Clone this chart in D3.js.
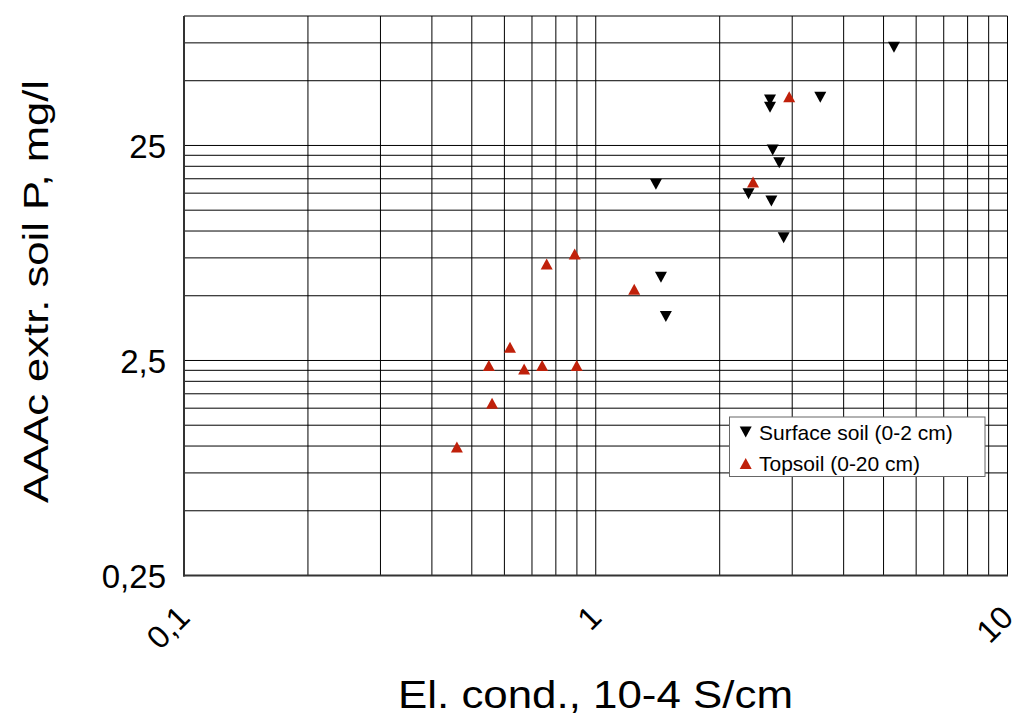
<!DOCTYPE html>
<html>
<head>
<meta charset="utf-8">
<script src="https://cdn.jsdelivr.net/npm/d3@7"></script>
<style>
  html, body { margin: 0; padding: 0; background: #fff; }
  svg { display: block; font-family: "Liberation Sans", Arial, Helvetica, sans-serif; }
</style>
</head>
<body>
<svg id="chart" width="1019" height="715"></svg>
<script>
// Electrical conductivity (10-4 S/cm) and AAAc-extractable P (mg/l)
const surfaceEC = [5.30, 2.65, 2.65, 3.51, 2.69, 2.79, 1.40, 2.35, 2.67, 2.86, 1.44, 1.48];
const surfaceP  = [71.5, 40.7, 37.6, 41.9, 23.8, 20.8, 16.5, 14.9, 13.8, 9.3, 6.1, 4.0];
const topsoilEC = [2.95, 2.41, 1.24, 0.889, 0.760, 0.619, 0.550, 0.670, 0.741, 0.899, 0.560, 0.460];
const topsoilP  = [42.1, 16.9, 5.36, 7.82, 7.02, 2.88, 2.37, 2.28, 2.37, 2.37, 1.58, 0.99];

const xTickValues = [0.1, 1, 10];
const xTickLabels = ["0,1", "1", "10"];
const yTickValues = [0.25, 2.5, 25];
const yTickLabels = ["0,25", "2,5", "25"];
const seriesNames = ["Surface soil (0-2 cm)", "Topsoil (0-20 cm)"];

const svg = d3.select("#chart");
const plotLeft = 184, plotRight = 1007.5, plotTop = 16, plotBottom = 575.5;

const x = d3.scaleLog().domain([0.1, 10]).range([plotLeft, plotRight]);
const y = d3.scaleLog().domain([0.25, 100]).range([plotBottom, plotTop]);

// Grid: x lines at 1..10 × each decade, y lines at 1..10 × each 0.25 decade
const xGrid = [];
[0.1, 1].forEach(b => { for (let k = 1; k <= 10; k++) xGrid.push(+(b * k).toFixed(4)); });
const yGrid = [];
[0.25, 2.5, 25].forEach(b => { for (let k = 1; k <= 10; k++) { const v = +(b * k).toFixed(4); if (v <= 100) yGrid.push(v); } });

const grid = svg.append("g");
grid.selectAll("line.gx").data(Array.from(new Set(xGrid))).join("line")
  .attr("class", "gx")
  .attr("x1", d => x(d)).attr("x2", d => x(d))
  .attr("y1", plotTop).attr("y2", plotBottom)
  .attr("stroke", "#000").attr("stroke-width", 1);
grid.selectAll("line.gy").data(Array.from(new Set(yGrid))).join("line")
  .attr("class", "gy")
  .attr("x1", plotLeft).attr("x2", plotRight)
  .attr("y1", d => y(d)).attr("y2", d => y(d))
  .attr("stroke", "#000").attr("stroke-width", 1);

// Frame
svg.append("line").attr("x1", plotLeft).attr("x2", plotLeft).attr("y1", plotTop).attr("y2", plotBottom + 1)
  .attr("stroke", "#333").attr("stroke-width", 2);
svg.append("line").attr("x1", plotLeft - 1).attr("x2", plotRight + 0.5).attr("y1", plotBottom).attr("y2", plotBottom)
  .attr("stroke", "#333").attr("stroke-width", 2);

// Axis labels via d3 axes (tick lines hidden; grid drawn above)
const yAxis = svg.append("g")
  .attr("transform", `translate(${plotLeft},0)`)
  .call(d3.axisLeft(y).tickValues(yTickValues).tickFormat((d, i) => yTickLabels[i]).tickSize(0).tickPadding(18));
yAxis.select(".domain").remove();
yAxis.selectAll("text")
  .attr("font-size", 33).attr("font-family", "Liberation Sans, Arial, sans-serif")
  .attr("fill", "#000").attr("dy", "0.36em");

const xAxis = svg.append("g")
  .attr("transform", `translate(0,${plotBottom})`)
  .call(d3.axisBottom(x).tickValues(xTickValues).tickFormat((d, i) => xTickLabels[i]).tickSize(0));
xAxis.select(".domain").remove();
xAxis.selectAll("text")
  .attr("font-size", 32).attr("font-family", "Liberation Sans, Arial, sans-serif")
  .attr("fill", "#000")
  .attr("y", 0).attr("dy", 0)
  .attr("text-anchor", "end")
  .attr("transform", "translate(7,44) rotate(-45)");

// Axis titles
svg.append("text")
  .attr("x", 595.5).attr("y", 708)
  .attr("text-anchor", "middle")
  .attr("font-size", 39)
  .attr("textLength", 395).attr("lengthAdjust", "spacingAndGlyphs")
  .text("El. cond., 10-4 S/cm");
svg.append("text")
  .attr("transform", "translate(48,291.5) rotate(-90)")
  .attr("text-anchor", "middle")
  .attr("font-size", 35)
  .attr("textLength", 423).attr("lengthAdjust", "spacingAndGlyphs")
  .text("AAAc extr. soil P, mg/l");

// Triangle markers: width 12, height 11, centred on the point
const downTri = "M-6,-5.5L6,-5.5L0,5.5Z";
const upTri = "M-6,5.5L6,5.5L0,-5.5Z";
const black = "#000", red = "#c0200a";

svg.append("g").selectAll("path")
  .data(surfaceEC.map((d, i) => [d, surfaceP[i]])).join("path")
  .attr("d", downTri).attr("fill", black)
  .attr("transform", d => `translate(${x(d[0])},${y(d[1])})`);
svg.append("g").selectAll("path")
  .data(topsoilEC.map((d, i) => [d, topsoilP[i]])).join("path")
  .attr("d", upTri).attr("fill", red)
  .attr("transform", d => `translate(${x(d[0])},${y(d[1])})`);

// Legend
const lg = svg.append("g");
lg.append("rect").attr("x", 729.5).attr("y", 417).attr("width", 255.5).attr("height", 59.5)
  .attr("fill", "#fff").attr("stroke", "#666").attr("stroke-width", 1);
const legendRows = [
  { name: seriesNames[0], shape: downTri, color: black, cy: 432, base: 439.5 },
  { name: seriesNames[1], shape: upTri, color: red, cy: 463.5, base: 471 }
];
legendRows.forEach(r => {
  lg.append("path").attr("d", r.shape).attr("fill", r.color)
    .attr("transform", `translate(745.7,${r.cy})`);
  lg.append("text").attr("x", 759).attr("y", r.base)
    .attr("font-size", 21).attr("fill", "#000").text(r.name);
});
</script>
</body>
</html>
